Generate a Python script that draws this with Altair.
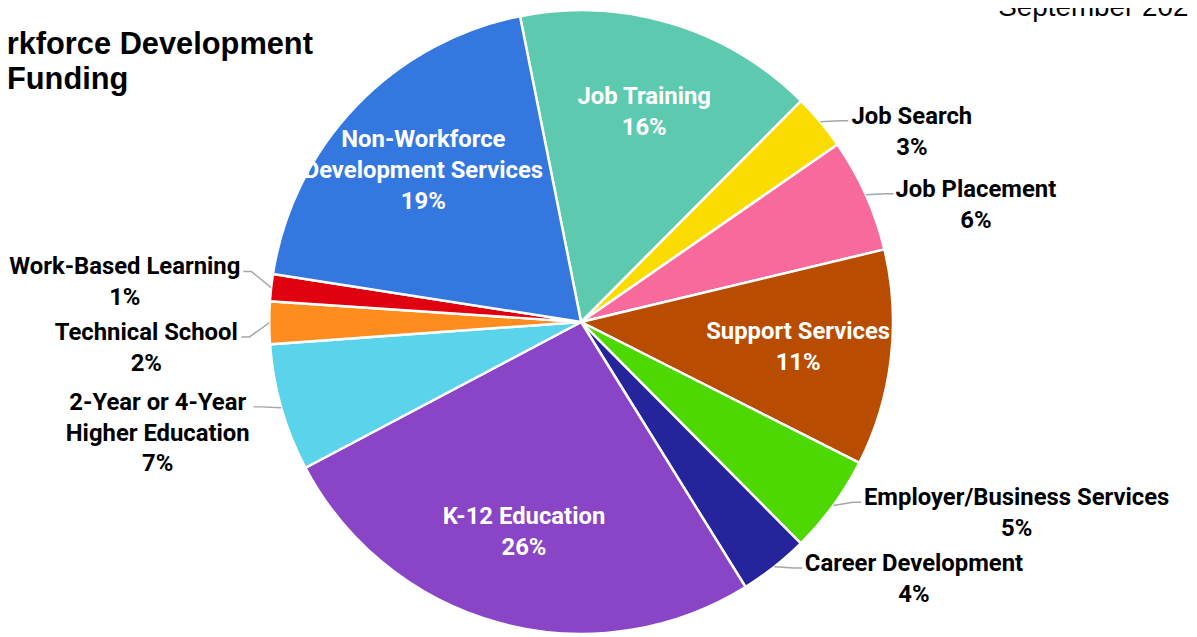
import math
import altair as alt
import pandas as pd

# ---------------- data ----------------
categories = ["Job Training", "Job Search", "Job Placement", "Support Services",
              "Employer/Business Services", "Career Development", "K-12 Education",
              "2-Year or 4-Year Higher Education", "Technical School",
              "Work-Based Learning", "Non-Workforce Development Services"]
display_names = ["Job Training", "Job Search", "Job Placement", "Support Services",
                 "Employer/Business Services", "Career Development", "K-12 Education",
                 "2-Year or 4-Year\nHigher Education", "Technical School",
                 "Work-Based Learning", "Non-Workforce\nDevelopment Services"]
values = [15.6, 2.9, 5.9, 11.2, 5.1, 3.6, 26.1, 6.6, 2.2, 1.4, 19.4]
colors = ["#5DCAB0", "#FADC00", "#F76A9B", "#B84C00", "#4CD800", "#26249A",
          "#8A44C6", "#5AD3EB", "#FF8C1E", "#DF0010", "#3478DF"]
inside = [True, False, False, True, False, False, True, False, False, False, True]

title_lines = ["Workforce Development", "Funding"]
date_text = "September 2023"

# ---------------- layout ----------------
W, H = 1189, 629
CX, CY, R = 577, 314, 314
START = math.radians(-11.3)
R_IN = 220
GAP = 32
LH = 31
FS = 24
WF = 0.93
LABEL_FONT = "Roboto, Liberation Sans, Arial, sans-serif"
TITLE_FONT = "Liberation Sans, Arial, sans-serif"

HB = {' ': 278, '%': 889, '-': 333, '/': 278}
for c in '0123456789':
    HB[c] = 556
HB.update(dict(zip("ABCDEFGHIJKLMNOPQRSTUVWXYZ",
                   [722, 722, 722, 722, 667, 611, 778, 722, 278, 556, 722, 611, 833,
                    722, 778, 667, 778, 722, 667, 611, 722, 667, 944, 667, 667, 611])))
HB.update(dict(zip("abcdefghijklmnopqrstuvwxyz",
                   [556, 611, 556, 611, 556, 333, 611, 611, 278, 278, 556, 278, 889,
                    611, 611, 611, 611, 389, 556, 333, 611, 556, 778, 556, 556, 500])))


def text_w(s):
    return sum(HB.get(ch, 556) for ch in s) / 1000 * FS * WF


total = sum(values)
cum = 0.0
rows, in_rows, out_rows = [], [], []
for i, (cat, name, v, ins) in enumerate(zip(categories, display_names, values, inside)):
    a0 = START + 2 * math.pi * cum / total
    cum += v
    a1 = START + 2 * math.pi * cum / total
    mid = (a0 + a1) / 2
    pct = f"{round(v)}%"
    text = name + "\n" + pct
    n = len(text.split("\n"))
    rows.append({"category": cat, "value": v, "idx": i})
    if ins:
        yc = CY - R_IN * math.cos(mid)
        in_rows.append({"category": cat, "text": text,
                        "x": CX + R_IN * math.sin(mid), "y": yc - (n - 1) * LH / 2})
    else:
        ex, ey = CX + R * math.sin(mid), CY - R * math.cos(mid)
        lines = text.split("\n")
        out_rows.append({"category": cat, "text": text, "ex": ex, "ey": ey,
                         "side": "R" if math.sin(mid) > 0 else "L",
                         "n": n, "w": max(text_w(s) for s in lines),
                         "b1": ey + 2})

# simple vertical de-overlap per side
for side in ("R", "L"):
    grp = sorted([r for r in out_rows if r["side"] == side], key=lambda r: r["b1"])
    for _ in range(50):
        for a, b in zip(grp, grp[1:]):
            need = a["n"] * LH + 4
            gap = b["b1"] - a["b1"]
            if gap < need:
                d = (need - gap) / 2
                a["b1"] -= d
                b["b1"] += d

lab_rows, lead_rows = [], []
for r in out_rows:
    ly = r["b1"] - 3
    if r["side"] == "R":
        left = r["ex"] + GAP
        cx_text = left + r["w"] / 2
        pts = [(r["ex"], r["ey"]), (left - 12, ly), (left - 4, ly)]
    else:
        right = r["ex"] - GAP
        cx_text = right - r["w"] / 2
        pts = [(r["ex"], r["ey"]), (right + 12, ly), (right + 4, ly)]
    lab_rows.append({"category": r["category"], "text": r["text"], "x": cx_text, "y": r["b1"]})
    for k, (px, py) in enumerate(pts):
        lead_rows.append({"category": r["category"], "k": k, "x": px, "y": py})

df = pd.DataFrame(rows)
df_in = pd.DataFrame(in_rows)
df_out = pd.DataFrame(lab_rows)
df_lead = pd.DataFrame(lead_rows)
df_title = pd.DataFrame({"text": [title_lines[0]], "x": [307], "y": [44]})
df_title2 = pd.DataFrame({"text": [title_lines[1]], "x": [-1], "y": [79]})
df_date = pd.DataFrame({"text": [date_text], "x": [997], "y": [6]})

X = lambda: alt.X("x:Q", scale=None, axis=None)
Y = lambda: alt.Y("y:Q", scale=None, axis=None)

arcs = alt.Chart(df).mark_arc(radius=R, x=CX, y=CY, stroke="white", strokeWidth=2.5).encode(
    theta=alt.Theta("value:Q", stack=True,
                    scale=alt.Scale(range=[START, START + 2 * math.pi])),
    order=alt.Order("idx:Q", sort="ascending"),
    color=alt.Color("category:N", scale=alt.Scale(domain=categories, range=colors), legend=None),
)

leaders = alt.Chart(df_lead).mark_line(color="#A6A6A6", strokeWidth=1.5).encode(
    x=X(), y=Y(), detail="category:N", order="k:Q")

in_text = alt.Chart(df_in).mark_text(font=LABEL_FONT, fontWeight="bold", fontSize=FS,
                                     color="white", align="center", baseline="middle",
                                     lineBreak="\n", lineHeight=LH).encode(
    x=X(), y=Y(), text="text:N")

out_text = alt.Chart(df_out).mark_text(font=LABEL_FONT, fontWeight="bold", fontSize=FS,
                                       color="black", align="center", baseline="alphabetic",
                                       lineBreak="\n", lineHeight=LH).encode(
    x=X(), y=Y(), text="text:N")

title1 = alt.Chart(df_title).mark_text(font=TITLE_FONT, fontWeight="bold", fontSize=31,
                                       color="black", align="right", baseline="alphabetic").encode(
    x=X(), y=Y(), text="text:N")
title2 = alt.Chart(df_title2).mark_text(font=TITLE_FONT, fontWeight="bold", fontSize=31,
                                        color="black", align="left", baseline="alphabetic").encode(
    x=X(), y=Y(), text="text:N")
date = alt.Chart(df_date).mark_text(font=TITLE_FONT, fontSize=28, color="black",
                                    align="left", baseline="alphabetic").encode(
    x=X(), y=Y(), text="text:N")

chart = alt.layer(arcs, leaders, in_text, out_text, title1, title2, date).properties(
    width=W, height=H, autosize=alt.AutoSizeParams(type="none"), padding=0,
    background="white",
).configure_view(stroke=None)

chart.save("out.html", embed_options={"renderer": "svg", "actions": False})
